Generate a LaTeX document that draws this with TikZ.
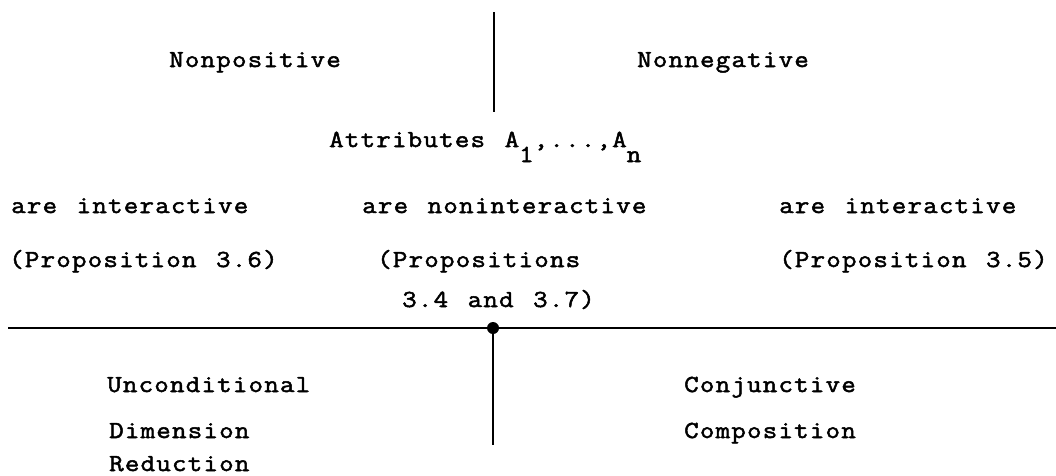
\documentclass[tikz,border=0pt]{standalone}
\usepackage{fontspec}
\newfontfamily\tw[FakeStretch=1.15,LetterSpace=4.9,WordSpace=1.244,FakeBold=2]{Latin Modern Mono}
\begin{document}
\begin{tikzpicture}[x=1pt,y=-1pt,
  lbl/.style={anchor=base west,inner sep=0pt,font=\tw\fontsize{24.5}{24.5}\selectfont},
  rule/.style={line width=2.6pt},
  thinrule/.style={line width=2.2pt}]
\useasboundingbox (0,0) rectangle (1056,475);
% coordinates for rules
\coordinate (t1) at (494,12);
\coordinate (t2) at (494,112);
\coordinate (hl) at (8,328);
\coordinate (hr) at (1056,328);
\coordinate (c) at (493,328);
\coordinate (b2) at (493,445);
% texts
\node[lbl] (npos) at (169,67) {Nonpositive};
\node[lbl] (nneg) at (637,67) {Nonnegative};
\node[lbl] (attr) at (329,147) {Attributes A\raisebox{-15pt}{1},...,A\raisebox{-15pt}{n}};
\node[lbl] (ai1) at (11,213) {are interactive};
\node[lbl] (ani) at (362,213) {are noninteractive};
\node[lbl] (ai2) at (779,213) {are interactive};
\node[lbl] (p36) at (9,267) {(Proposition 3.6)};
\node[lbl] (p34a) at (377,267) {(Propositions};
\node[lbl] (p34b) at (402,307) {3.4 and 3.7)};
\node[lbl] (p35) at (779,267) {(Proposition 3.5)};
\node[lbl] (unc) at (107,392) {Unconditional};
\node[lbl] (dim) at (109,438) {Dimension};
\node[lbl,text depth=0pt] (red) at (109,471) {Reduction};
\node[lbl] (conj) at (684,392) {Conjunctive};
\node[lbl] (comp) at (684,438) {Composition};
% rules
\draw[rule] (t1) -- (t2);
\draw[thinrule] (hl) -- (hr);
\draw[rule] (c) -- (b2);
\fill (c) circle (6pt);
\end{tikzpicture}
\end{document}
